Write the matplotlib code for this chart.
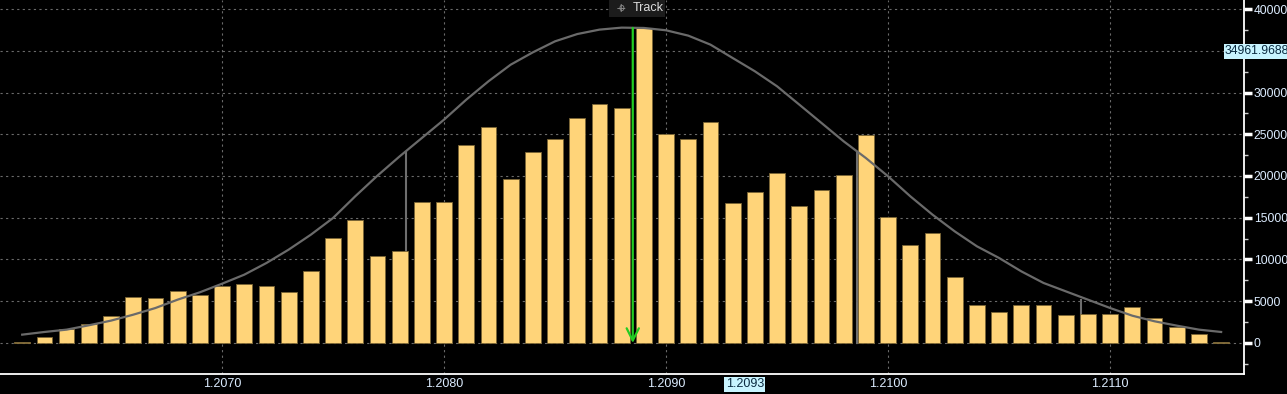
import numpy as np
import matplotlib
matplotlib.use("Agg")
import matplotlib.pyplot as plt
from matplotlib.ticker import MultipleLocator, FuncFormatter

# price buckets and traded volume per bucket
prices = [round(1.2061 + i * 0.0001, 4) for i in range(55)]
volume = [160, 760, 1720, 2320, 3230, 5550, 5430, 6270, 5790, 6830,
          7030, 6830, 6150, 8620, 12580, 14730, 10420, 10980, 16850, 16850,
          23710, 25870, 19640, 22910, 24390, 26990, 28660, 28140, 37700, 24990,
          24390, 26510, 16730, 18080, 20360, 16370, 18280, 20120, 24950, 15130,
          11780, 13210, 7950, 4590, 3750, 4590, 4590, 3350, 3430, 3430,
          4350, 2990, 1880, 1080, 160]

# fitted distribution curve read at each bucket
curve = [1000, 1320, 1600, 2120, 2680, 3390, 4190, 5190, 6070, 7100,
         8180, 9580, 11180, 12970, 14970, 17570, 20040, 22350, 24550, 26750,
         29140, 31340, 33330, 34810, 36130, 37000, 37530, 37770, 37730, 37450,
         36810, 35730, 34130, 32540, 30740, 28550, 26350, 24150, 22150, 19960,
         17570, 15370, 13370, 11580, 10180, 8580, 7190, 6190, 5190, 4190,
         3270, 2600, 2080, 1600, 1320]

# standard deviation markers (price, height)
sd_prices = [1.20683, 1.20783, 1.20986, 1.21087]
sd_heights = [5270, 22900, 22870, 5190]

x_ticks = [1.207, 1.208, 1.209, 1.210, 1.211]

mean_price = 1.20885
peak_value = 37730
last_price = 1.2093
cursor_value = 34961.9688

bar_color = "#ffd479"
grid_color = "#6a6a6a"
label_color = "#dcecff"

fig = plt.figure(figsize=(12.87, 3.94), dpi=100, facecolor="black")
ax = fig.add_axes([0, 20 / 394, 1244 / 1287, 374 / 394])
ax.set_facecolor("black")

for p, h in zip(sd_prices, sd_heights):
    ax.plot([p, p], [0, h], color="#6e6e6e", lw=1.5, zorder=1)

ax.bar(prices, volume, width=0.000071, color=bar_color, edgecolor="#7a6535",
       linewidth=0.6, zorder=2)
ax.plot(prices, curve, color="#6a6a6a", lw=1.6, zorder=3)

ax.annotate("", xy=(mean_price, 0), xytext=(mean_price, peak_value),
            arrowprops=dict(arrowstyle="->", color="#22cc22", lw=1.6,
                            mutation_scale=22, shrinkA=0, shrinkB=0),
            zorder=4)

ax.set_xlim(1.2060, 1.211603)
ax.set_ylim(-3713, 41078)

ax.set_xticks(x_ticks)
ax.xaxis.set_major_formatter(FuncFormatter(lambda v, p: f"{v:.4f}"))
ax.yaxis.set_major_locator(MultipleLocator(5000))
ax.yaxis.set_minor_locator(MultipleLocator(2500))
ax.yaxis.tick_right()
# 35000 sits under the cursor value box
ax.yaxis.set_major_formatter(FuncFormatter(
    lambda v, p: "" if abs(v - 35000) < 1 else f"{v:.0f}"))

ax.grid(True, which="major", color=grid_color, linestyle=(0, (2, 3)), lw=0.8, zorder=0)

for s in ["top", "left"]:
    ax.spines[s].set_visible(False)
ax.spines["right"].set_color("white")
ax.spines["bottom"].set_color("white")
ax.spines["right"].set_linewidth(1.3)
ax.spines["bottom"].set_linewidth(1.3)

ax.tick_params(axis="y", which="major", direction="out", length=6, width=2.5,
               colors="white", labelcolor=label_color, labelsize=8.7, pad=1)
ax.tick_params(axis="y", which="minor", direction="out", length=3, width=1,
               colors="#cccccc")
ax.tick_params(axis="x", length=0, labelcolor=label_color, labelsize=9, pad=3)
for t in ax.get_xticklabels() + ax.get_yticklabels():
    t.set_family("Liberation Sans")

# highlighted value labels
ax.annotate(f"{last_price:.4f}", xy=(last_price, -(384 - 374) / 374),
            xycoords=ax.get_xaxis_transform(), xytext=(-5, 0),
            textcoords="offset points", ha="left", va="center", fontsize=9,
            family="Liberation Sans", color="#0a2a40", annotation_clip=False,
            bbox=dict(boxstyle="square,pad=0.12", fc="#c8f4ff", ec="none"))
ax.text(1.0 - 19 / 1244, cursor_value, f"{cursor_value:.4f}",
        transform=ax.get_yaxis_transform(), ha="left", va="center", fontsize=8.7,
        family="Liberation Sans", color="#0a2a40", clip_on=False, zorder=10,
        bbox=dict(boxstyle="square,pad=0.12", fc="#c8f4ff", ec="none"))

# Track box at the top
fig.patches.append(plt.Rectangle((609 / 1287, 1 - 17 / 394), 56 / 1287, 17 / 394,
                                 transform=fig.transFigure, fc="#1c1c1c", ec="none"))
fig.text(621 / 1287, 1 - 8 / 394, "+", color="#888888", fontsize=9,
         ha="center", va="center")
fig.text(621 / 1287, 1 - 8 / 394, "o", color="#888888", fontsize=7,
         ha="center", va="center")
fig.text(633 / 1287, 1 - 8 / 394, "Track", color="#dddddd", fontsize=9,
         family="Liberation Sans", ha="left", va="center")

fig.savefig("out.png", dpi=100, facecolor="black")
